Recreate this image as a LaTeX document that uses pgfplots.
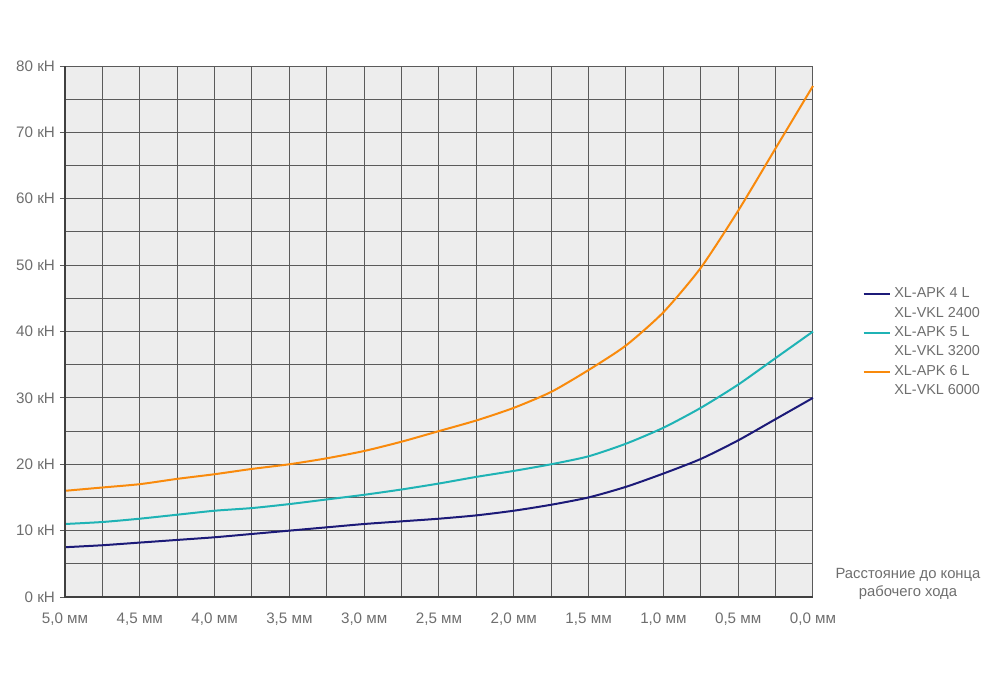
\documentclass[border=0pt]{standalone}
\usepackage{pgfplots}
\pgfplotsset{compat=1.18}
\usepackage{fontspec}
\setmainfont{Liberation Sans}
\definecolor{txt}{HTML}{6E6E6E}
\definecolor{bgc}{HTML}{EDEDED}
\definecolor{gridc}{HTML}{5A5A5A}
\definecolor{navyc}{HTML}{1C1A78}
\definecolor{tealc}{HTML}{1FB3B5}
\definecolor{orangec}{HTML}{F98A0C}
\begin{document}
\begin{tikzpicture}[x=1pt,y=1pt]
\path[use as bounding box] (0,0) rectangle (500,341);
\begin{axis}[
  at={(32.5pt,42.5pt)}, anchor=south west,
  scale only axis, width=374pt, height=265.5pt,
  x dir=reverse,
  xmin=0, xmax=5, ymin=0, ymax=80,
  axis background/.style={fill=bgc},
  axis line style={draw=none},
  xtick={0,0.5,1,1.5,2,2.5,3,3.5,4,4.5,5},
  xticklabels={{0,0 мм},{0,5 мм},{1,0 мм},{1,5 мм},{2,0 мм},{2,5 мм},{3,0 мм},{3,5 мм},{4,0 мм},{4,5 мм},{5,0 мм}},
  ytick={0,10,20,30,40,50,60,70,80},
  yticklabels={0 кН,10 кН,20 кН,30 кН,40 кН,50 кН,60 кН,70 кН,80 кН},
  minor x tick num=1, minor y tick num=1,
  grid=both,
  major grid style={gridc, line width=0.5pt},
  minor grid style={gridc, line width=0.5pt},
  xtick style={draw=none}, minor tick length=0pt,
  ytick style={gridc, line width=0.5pt}, major tick length=2.5pt,
  tick align=outside,
  ytick pos=left,
  xtick pos=left,
  tick label style={font=\fontsize{7.6}{9}\selectfont, text=txt},
  xticklabel style={yshift=-2pt},
  yticklabel style={xshift=1pt},
  xlabel={Расстояние до конца\\рабочего хода},
  xlabel style={at={(rel axis cs:1.127,0.025)}, anchor=center, align=center, font=\fontsize{7.4}{9}\selectfont, text=txt},
  legend style={draw=none, fill=none, at={(rel axis cs:1.058,0.593)}, anchor=north west,
    font=\fontsize{7.2}{8}\selectfont, text=txt, row sep=2pt, column sep=1.2pt,
    nodes={inner sep=0.6pt}},
  legend cell align=left,
  legend image code/.code={\draw[#1, line width=0.9pt] (0cm,0cm) -- (0.46cm,0cm);},
  clip=false,
]
\addplot[navyc, line width=1pt, smooth, tension=0.4] coordinates {
(5.0,7.5) (4.75,7.8) (4.5,8.2) (4.25,8.6) (4.0,9.0) (3.75,9.5) (3.5,10.0) (3.25,10.5)
(3.0,11.0) (2.75,11.4) (2.5,11.8) (2.25,12.3) (2.0,13.0) (1.75,13.9) (1.5,15.0)
(1.25,16.6) (1.0,18.6) (0.75,20.8) (0.5,23.6) (0.25,26.8) (0.0,30.0)};
\addlegendentry{XL-APK 4 L}
\addlegendimage{empty legend}\addlegendentry{XL-VKL 2400}
\addplot[tealc, line width=1pt, smooth, tension=0.4] coordinates {
(5.0,11.0) (4.75,11.3) (4.5,11.8) (4.25,12.4) (4.0,13.0) (3.75,13.4) (3.5,14.0) (3.25,14.7)
(3.0,15.4) (2.75,16.2) (2.5,17.1) (2.25,18.1) (2.0,19.0) (1.75,20.0) (1.5,21.2)
(1.25,23.1) (1.0,25.5) (0.75,28.5) (0.5,32.0) (0.25,36.0) (0.0,40.0)};
\addlegendentry{XL-APK 5 L}
\addlegendimage{empty legend}\addlegendentry{XL-VKL 3200}
\addplot[orangec, line width=1pt, smooth, tension=0.4] coordinates {
(5.0,16.0) (4.75,16.5) (4.5,17.0) (4.25,17.8) (4.0,18.5) (3.75,19.3) (3.5,20.0) (3.25,20.9)
(3.0,22.0) (2.75,23.4) (2.5,25.0) (2.25,26.6) (2.0,28.5) (1.75,30.9) (1.5,34.2)
(1.25,37.9) (1.0,42.9) (0.75,49.6) (0.5,58.2) (0.25,67.6) (0.0,77.0)};
\addlegendentry{XL-APK 6 L}
\addlegendimage{empty legend}\addlegendentry{XL-VKL 6000}
\draw[black!75, line width=1.2pt] (axis cs:5,80) -- (axis cs:5,0) -- (axis cs:0,0);
\end{axis}
\end{tikzpicture}
\end{document}
